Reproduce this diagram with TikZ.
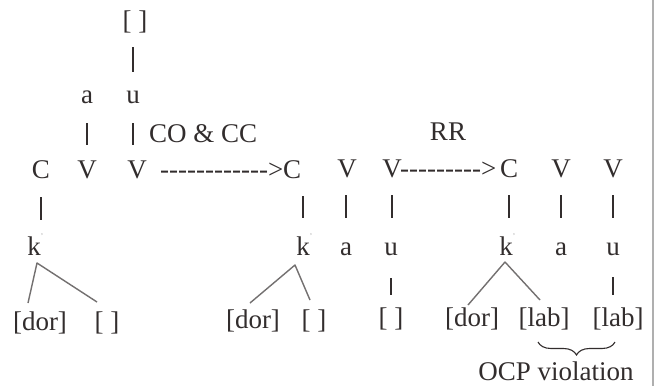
\documentclass[tikz,border=0pt]{standalone}
\usepackage{fontspec}
\setmainfont{Liberation Serif}
\usetikzlibrary{calc,decorations.pathreplacing}
\definecolor{ink}{RGB}{50,45,45}
\definecolor{branchc}{RGB}{115,112,112}
\definecolor{edgec}{RGB}{175,175,175}
\newcommand\myvbar[5]{\draw[bar] ($(#1.base |- #2.base)+(0,#4)$) -- ($(#1.base |- #3.base)+(0,-#5)$);}
\newcommand\kk{k\rlap{\raisebox{17pt}{\fontsize{7}{7}\selectfont\color{gray}’}}}
\begin{document}
\begin{tikzpicture}[x=1pt,y=-1pt,
  lbl/.style={font=\fontsize{27}{31}\selectfont, text=ink, inner sep=0pt, anchor=base},
  bar/.style={draw=ink, line width=1.1pt},
  branch/.style={draw=branchc, line width=1.4pt, line join=round},
  ]
\useasboundingbox (0,0) rectangle (658,386);
\fill[white] (0,0) rectangle (658,386);
\draw[edgec, line width=1.6pt] (653,0) -- (653,386);
% group 1
\node[lbl] (e1) at (135,29) {[ ]};
\node[lbl] (a1) at (87,103) {a};
\node[lbl] (u1) at (133,103) {u};
\node[lbl, anchor=base west] (co) at (149,142) {CO \& CC};
\node[lbl] (C1) at (41,178) {C};
\node[lbl] (V1a) at (87,178) {V};
\node[lbl] (V1b) at (137,178) {V};
\node[lbl, anchor=base west] (ar1) at (160,178) {-{}-{}-{}-{}-{}-{}-{}-{}-{}-{}-{}->};
\node[lbl] (C2) at (292,178) {C};
\node[lbl] (k1) at (34,255) {\kk};
\node[lbl] (dor1) at (40,330) {[dor]};
\node[lbl] (e2) at (107,330) {[ ]};
% group 2
\node[lbl] (RR) at (448,140) {RR};
\node[lbl] (V2a) at (347,177) {V};
\node[lbl] (V2b) at (392,177) {V};
\node[lbl, anchor=base west] (ar2) at (400,177) {-{}-{}-{}-{}-{}-{}-{}-{}-{}>};
\node[lbl] (C3) at (509,177) {C};
\node[lbl] (V3) at (561,177) {V};
\node[lbl] (V4) at (613,177) {V};
\node[lbl] (k2) at (303,255) {\kk};
\node[lbl] (a2) at (346,255) {a};
\node[lbl] (u2) at (391,255) {u};
\node[lbl] (k3) at (506,255) {\kk};
\node[lbl] (a3) at (561,255) {a};
\node[lbl] (u3) at (613,255) {u};
\node[lbl] (dor2) at (253,328) {[dor]};
\node[lbl] (e3) at (314,328) {[ ]};
\node[lbl] (e4) at (391,326) {[ ]};
\node[lbl] (dor3) at (472,326) {[dor]};
\node[lbl] (lab1) at (544,326) {[lab]};
\node[lbl] (lab2) at (618,326) {[lab]};
\node[lbl] (ocp) at (556,380) {OCP violation};
% vertical association lines
\myvbar{u1}{e1}{u1}{18}{31}
\myvbar{a1}{a1}{V1a}{20}{33}
\myvbar{u1}{u1}{V1b}{20}{33}
\myvbar{C1}{C1}{k1}{19}{35}
\myvbar{k2}{C2}{k2}{18}{37}
\myvbar{a2}{V2a}{a2}{18}{37}
\myvbar{V2b}{V2b}{u2}{18}{37}
\myvbar{C3}{C3}{k3}{18}{37}
\myvbar{V3}{V3}{a3}{18}{37}
\myvbar{V4}{V4}{u3}{18}{37}
\myvbar{u2}{u2}{e4}{23}{31}
\myvbar{u3}{u3}{lab2}{22}{31}
% branches
\draw[branch] ($(dor1.base)+(-12,-27)$) -- ($(k1.base)+(3,8)$) -- ($(e2.base)+(-10,-28)$);
\draw[branch] ($(dor2.base)+(-3,-25)$) -- ($(k2.base)+(-8,10)$) -- ($(e3.base)+(-4,-28)$);
\draw[branch] ($(dor3.base)+(-4,-21)$) -- ($(k3.base)+(-1,7)$) -- ($(lab1.base)+(-4,-26)$);
% brace
\draw[bar, decorate, decoration={brace, amplitude=13pt}] ($(lab2.base)+(-3,16)$) -- ($(lab1.base)+(-6,16)$);
\end{tikzpicture}
\end{document}
